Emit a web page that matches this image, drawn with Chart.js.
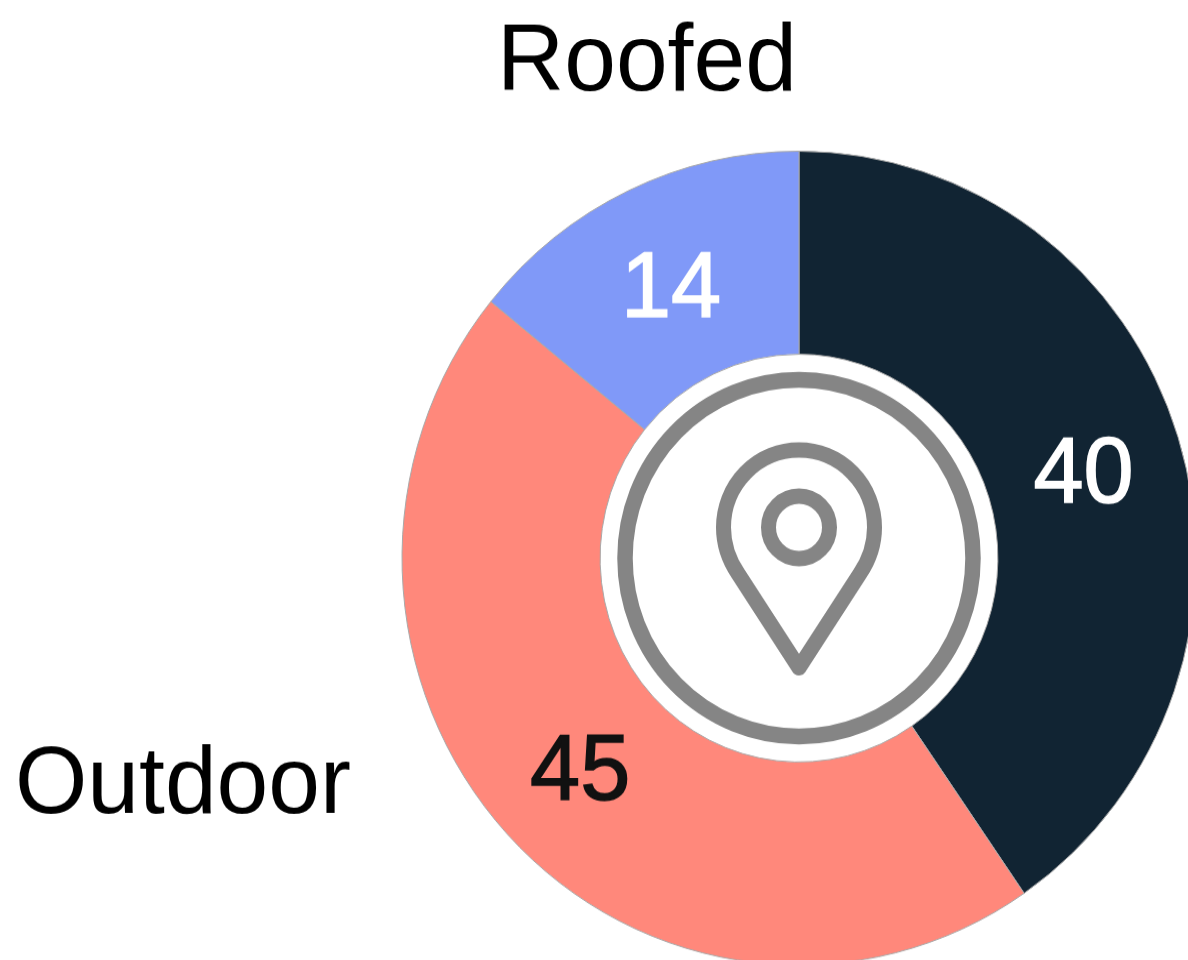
<!DOCTYPE html>
<html>
<head>
<meta charset="utf-8">
<script src="https://cdn.jsdelivr.net/npm/chart.js@4/dist/chart.umd.min.js"></script>
<style>
  html, body { margin: 0; padding: 0; background: #fff; overflow: hidden; width: 1188px; height: 960px; }
  /* the source picture is a little taller than wide, so the ring is stretched */
  #wrap { position: absolute; left: 0; top: 0; width: 1598px; height: 1089px; transform: scaleY(1.025); transform-origin: 0 0; }
</style>
</head>
<body>
<div id="wrap"><canvas id="chart" width="1598" height="1089"></canvas></div>
<script>
const categories = ['Covered', 'Outdoor', 'Roofed']
const values = [40, 45, 14]
const colors = ['#112433', '#ff887b', '#8099f8']
const labelColors = ['#ffffff', '#111111', '#ffffff']

// value numbers on the slices
const sliceLabels = {
  id: 'sliceLabels',
  afterDatasetsDraw (chart) {
    const ctx = chart.ctx
    ctx.save()
    ctx.font = '90px "Liberation Sans", Arial, sans-serif'
    ctx.textAlign = 'center'
    ctx.textBaseline = 'middle'
    ctx.lineWidth = 1.5
    chart.getDatasetMeta(0).data.forEach((arc, i) => {
      const p = arc.getCenterPoint()
      ctx.fillStyle = labelColors[i]
      ctx.strokeStyle = labelColors[i]
      ctx.fillText(values[i], p.x, p.y + 9)
      ctx.strokeText(values[i], p.x, p.y + 9)
    })
    ctx.restore()
  }
}

// outside names and the pin icon in the hole
const extras = {
  id: 'extras',
  afterDraw (chart) {
    const ctx = chart.ctx
    const arc = chart.getDatasetMeta(0).data[0]
    const cx = arc.x
    const cy = arc.y
    ctx.save()
    ctx.fillStyle = '#000'
    ctx.font = '93px "Liberation Sans", Arial, sans-serif'
    ctx.textAlign = 'left'
    ctx.textBaseline = 'alphabetic'
    ctx.fillText('Roofed', 497, 88)
    ctx.fillText('Outdoor', 15, 793)

    ctx.strokeStyle = '#858585'
    ctx.lineWidth = 15.5
    ctx.beginPath()
    ctx.arc(cx, cy, 174, 0, Math.PI * 2)
    ctx.stroke()

    ctx.lineJoin = 'round'
    ctx.lineWidth = 15
    ctx.beginPath()
    ctx.arc(cx, cy - 30, 75.5, Math.PI, 0)
    ctx.bezierCurveTo(cx + 75.5, cy - 12, cx + 70, cy + 2, cx + 61, cy + 15)
    ctx.lineTo(cx, cy + 107)
    ctx.lineTo(cx - 61, cy + 15)
    ctx.bezierCurveTo(cx - 70, cy + 2, cx - 75.5, cy - 12, cx - 75.5, cy - 30)
    ctx.closePath()
    ctx.stroke()
    ctx.beginPath()
    ctx.arc(cx, cy - 30, 30.5, 0, Math.PI * 2)
    ctx.stroke()
    ctx.restore()
  }
}

new Chart(document.getElementById('chart'), {
  type: 'doughnut',
  data: {
    labels: categories,
    datasets: [{
      data: values,
      backgroundColor: colors,
      borderColor: '#a9a9a9',
      borderWidth: 1
    }]
  },
  options: {
    responsive: false,
    animation: false,
    radius: 397,
    cutout: '50.1%',
    plugins: { legend: { display: false }, tooltip: { enabled: false } }
  },
  plugins: [sliceLabels, extras]
})
</script>
</body>
</html>
